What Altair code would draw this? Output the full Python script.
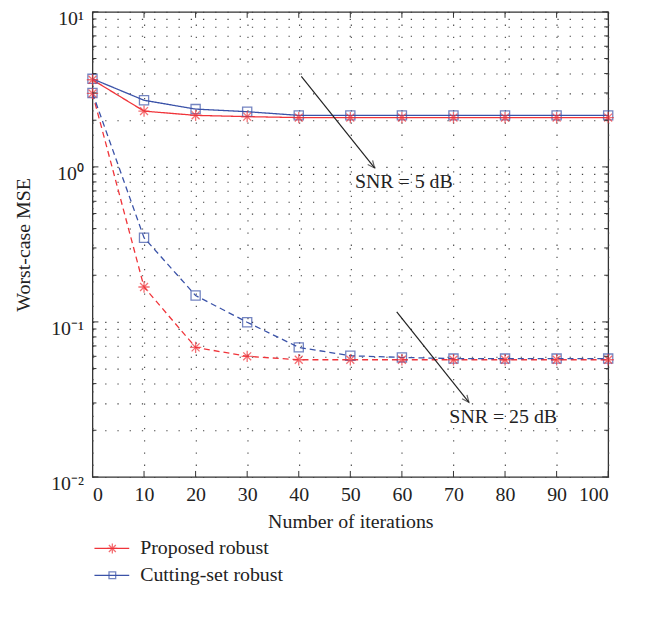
import altair as alt
import pandas as pd

# ---------------- data ----------------
iterations = [0, 10, 20, 30, 40, 50, 60, 70, 80, 90, 100]
proposed_5db = [3.65, 2.29, 2.15, 2.11, 2.08, 2.08, 2.08, 2.08, 2.08, 2.08, 2.08]
cutting_5db = [3.70, 2.69, 2.36, 2.27, 2.15, 2.15, 2.15, 2.15, 2.15, 2.15, 2.15]
proposed_25db = [2.98, 0.168, 0.0685, 0.060, 0.057, 0.057, 0.057, 0.057, 0.057, 0.057, 0.057]
cutting_25db = [3.00, 0.349, 0.148, 0.0995, 0.0685, 0.0605, 0.059, 0.058, 0.058, 0.058, 0.058]

methods = ["Proposed robust", "Cutting-set robust"]
snr_labels = ["SNR = 5 dB", "SNR = 25 dB"]
x_ticks = [0, 10, 20, 30, 40, 50, 60, 70, 80, 90, 100]
y_major = [0.01, 0.1, 1, 10]
y_minor = [m * d for d in [0.01, 0.1, 1] for m in range(2, 10)]

# annotation arrows: start (iter, mse) -> end (iter, mse), label position
arrow_start_x = [40.5, 59.0]
arrow_start_y = [3.83, 0.116]
arrow_end_x = [54.7, 73.0]
arrow_end_y = [0.985, 0.0303]
label_x = [50.9, 69.2]
label_y = [0.80, 0.0243]

FONT = "Liberation Serif"
RED = "#f0343a"
BLUE = "#3a52a8"
FS = 20

rows = []
for m, snr, vals in [
    (methods[0], "5", proposed_5db),
    (methods[1], "5", cutting_5db),
    (methods[0], "25", proposed_25db),
    (methods[1], "25", cutting_25db),
]:
    for it, v in zip(iterations, vals):
        rows.append({"iter": it, "mse": v, "method": m, "snr": snr, "grp": m + snr})
df = pd.DataFrame(rows)

W, H = 519, 468
xscale = alt.Scale(domain=[0, 100], nice=False, zero=False)
yscale = alt.Scale(type="log", domain=[0.01, 10], nice=False)

label_expr = (
    "datum.value > 9 ? '10\u00b9' : "
    "(datum.value > 0.9 && datum.value < 1.1) ? '10\u2070' : "
    "(datum.value > 0.09 && datum.value < 0.11) ? '10\u207b\u00b9' : "
    "(datum.value > 0.009 && datum.value < 0.011) ? '10\u207b\u00b2' : ''"
)

xaxis = alt.Axis(values=x_ticks, title="Number of iterations", grid=True,
                 ticks=False, domain=False, labelPadding=8, titlePadding=7)
yaxis = alt.Axis(values=y_major + y_minor, labelExpr=label_expr, title="Worst-case MSE",
                 grid=True, ticks=False, domain=False, labelPadding=9,
                 labelBaseline="top", labelOffset=-3,
                 titlePadding=17, labelOverlap=False)

color_scale = alt.Scale(domain=methods, range=[RED, BLUE])

lines = alt.Chart(df).mark_line(strokeWidth=1.3).encode(
    x=alt.X("iter:Q", scale=xscale, axis=xaxis),
    y=alt.Y("mse:Q", scale=yscale, axis=yaxis),
    color=alt.Color("method:N", scale=color_scale, legend=None),
    strokeDash=alt.StrokeDash("snr:N", scale=alt.Scale(domain=["5", "25"], range=[[1, 0], [6, 4]]), legend=None),
    detail="grp:N",
    order=alt.Order("iter:Q"),
)

STAR = "M-1,0L1,0M0,-1L0,1M-0.7,-0.7L0.7,0.7M-0.7,0.7L0.7,-0.7"

squares = alt.Chart(df[df.method == methods[1]]).mark_point(
    shape="square", filled=False, size=85, strokeWidth=1.3, color=BLUE
).encode(
    x=alt.X("iter:Q", scale=xscale),
    y=alt.Y("mse:Q", scale=yscale),
)
stars = alt.Chart(df[df.method == methods[0]]).mark_point(
    shape=STAR, filled=False, size=130, strokeWidth=1.3, color=RED
).encode(
    x=alt.X("iter:Q", scale=xscale),
    y=alt.Y("mse:Q", scale=yscale),
)

# inward ticks on the frame
TICK = "#333333"
ymaj_df = pd.DataFrame({"v": y_major})
ymin_df = pd.DataFrame({"v": y_minor})
xt_df = pd.DataFrame({"t": x_ticks})
tick_layers = []
for d, L in [(ymaj_df, 6), (ymin_df, 4)]:
    tick_layers.append(alt.Chart(d).mark_rule(color=TICK, strokeWidth=1).encode(
        y=alt.Y("v:Q", scale=yscale), x=alt.value(0), x2=alt.value(L)))
    tick_layers.append(alt.Chart(d).mark_rule(color=TICK, strokeWidth=1).encode(
        y=alt.Y("v:Q", scale=yscale), x=alt.value(W), x2=alt.value(W - L)))
tick_layers.append(alt.Chart(xt_df).mark_rule(color=TICK, strokeWidth=1).encode(
    x=alt.X("t:Q", scale=xscale), y=alt.value(H), y2=alt.value(H - 6)))
tick_layers.append(alt.Chart(xt_df).mark_rule(color=TICK, strokeWidth=1).encode(
    x=alt.X("t:Q", scale=xscale), y=alt.value(0), y2=alt.value(6)))

# annotations
ann = pd.DataFrame({
    "x1": arrow_start_x, "y1": arrow_start_y, "x2": arrow_end_x, "y2": arrow_end_y,
    "lx": label_x, "ly": label_y, "label": snr_labels,
})
arrow_lines = alt.Chart(ann).mark_rule(color="#222222", strokeWidth=1.2).encode(
    x=alt.X("x1:Q", scale=xscale), y=alt.Y("y1:Q", scale=yscale),
    x2="x2:Q", y2="y2:Q",
)
ARROW = "M-0.45,-1L0,0L0.45,-1"
arrow_heads = alt.Chart(ann).mark_point(
    shape=ARROW, filled=False, size=200, strokeWidth=1.2, color="#222222", angle=321
).encode(
    x=alt.X("x2:Q", scale=xscale), y=alt.Y("y2:Q", scale=yscale),
)
ann_text = alt.Chart(ann).mark_text(
    align="left", baseline="middle", font=FONT, fontSize=FS, color="#222222"
).encode(
    x=alt.X("lx:Q", scale=xscale), y=alt.Y("ly:Q", scale=yscale), text="label:N",
)

# manual legend below the plot
leg_layers = []
leg_df = pd.DataFrame({"label": methods})
for i, (m, col, shp, sz) in enumerate([(methods[0], RED, STAR, 100), (methods[1], BLUE, "square", 45)]):
    yy = 540 + 27 * i
    sub = leg_df[leg_df.label == m]
    leg_layers.append(alt.Chart(sub).mark_rule(color=col, strokeWidth=1.3).encode(
        x=alt.value(2), x2=alt.value(37), y=alt.value(yy)))
    leg_layers.append(alt.Chart(sub).mark_point(shape=shp, filled=False, size=sz,
                                                strokeWidth=1.3, color=col).encode(
        x=alt.value(20), y=alt.value(yy)))
    leg_layers.append(alt.Chart(sub).mark_text(align="left", baseline="middle", font=FONT,
                                               fontSize=FS, color="#222222").encode(
        x=alt.value(48), y=alt.value(yy), text="label:N"))

chart = alt.layer(
    lines, squares, stars, *tick_layers, arrow_lines, arrow_heads, ann_text, *leg_layers
).properties(
    width=W, height=H,
    autosize=alt.AutoSizeParams(type="none"),
    padding={"left": 85, "top": 2, "right": 30, "bottom": 130},
).configure_view(
    stroke="#333333", strokeWidth=1.3
).configure_axis(
    labelFont=FONT, titleFont=FONT, labelFontSize=FS, titleFontSize=FS,
    labelColor="#222222", titleColor="#222222", titleFontWeight="normal",
    gridColor="#444444", gridDash=[1.3, 11], gridWidth=1.1, gridOpacity=1,
)

chart.save("out.html", embed_options={"renderer": "svg", "actions": False})
